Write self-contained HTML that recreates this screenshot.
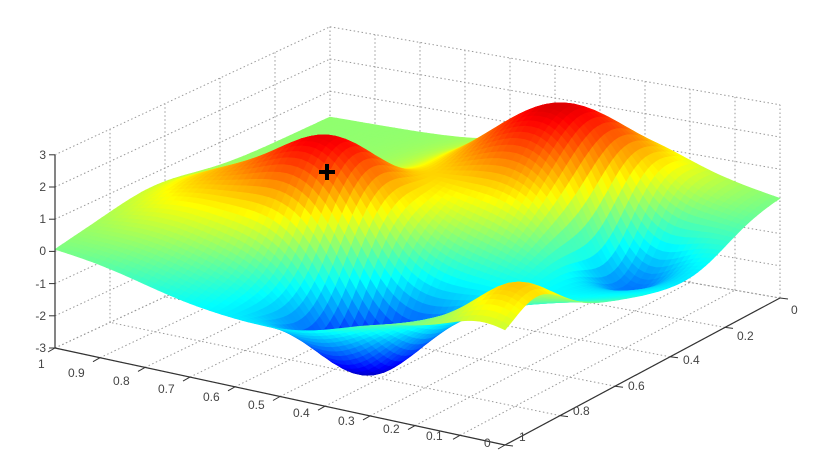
<!DOCTYPE html>
<html><head><meta charset="utf-8"><style>
html,body{margin:0;padding:0;background:#fff;width:820px;height:461px;overflow:hidden}
svg{display:block}
text{font-family:"Liberation Sans",sans-serif;font-size:12px;fill:#444}
</style></head><body>
<svg id="s" width="820" height="461" viewBox="0 0 820 461">
<g id="grid" stroke="#999" stroke-width="1" stroke-dasharray="1.5,2.5" fill="none"></g>
<g id="surf"></g>
<g id="axes" stroke="#333" stroke-width="1.2" fill="none">
<line x1="55" y1="155" x2="55" y2="348"/>
<line x1="55" y1="348" x2="505" y2="445"/>
<line x1="505" y1="445" x2="780" y2="298"/>
</g>
<g id="ticks" stroke="#333" stroke-width="1"></g>
<g>
<text x="46" y="159" text-anchor="end">3</text>
<text x="46" y="191" text-anchor="end">2</text>
<text x="46" y="223" text-anchor="end">1</text>
<text x="46" y="255" text-anchor="end">0</text>
<text x="46" y="288" text-anchor="end">-1</text>
<text x="46" y="320" text-anchor="end">-2</text>
<text x="46" y="352" text-anchor="end">-3</text>
<text x="38" y="368">1</text>
<text x="68" y="377">0.9</text>
<text x="113" y="385">0.8</text>
<text x="158" y="393">0.7</text>
<text x="203" y="401">0.6</text>
<text x="248" y="409">0.5</text>
<text x="293" y="417">0.4</text>
<text x="338" y="425">0.3</text>
<text x="383" y="433">0.2</text>
<text x="426" y="440">0.1</text>
<text x="484" y="447">0</text>
<text x="791" y="314">0</text>
<text x="737" y="340">0.2</text>
<text x="683" y="364">0.4</text>
<text x="628" y="390">0.6</text>
<text x="573" y="415">0.8</text>
<text x="519" y="441">1</text>
</g>
<g stroke="#000" stroke-width="4"><line x1="319" y1="172" x2="335" y2="172"/><line x1="327" y1="164" x2="327" y2="180"/></g>
</svg>
<script>
var A=[505,445],B=[55,348],C=[780,298],D=[330,220],ZS=32.2;
function fl(u,v){var x=(1-u)*(1-v)*A[0]+u*(1-v)*B[0]+(1-u)*v*C[0]+u*v*D[0];
var y=(1-u)*(1-v)*A[1]+u*(1-v)*B[1]+(1-u)*v*C[1]+u*v*D[1];return [x,y];}
function P(u,v,z){var p=fl(u,v);return [p[0],p[1]-(z+3)*ZS];}
var NS="http://www.w3.org/2000/svg";
function ln(g,a,b){var l=document.createElementNS(NS,"line");l.setAttribute("x1",a[0]);l.setAttribute("y1",a[1]);l.setAttribute("x2",b[0]);l.setAttribute("y2",b[1]);g.appendChild(l);}
var grid=document.getElementById("grid");
for(var i=0;i<=10;i++){var u=i/10;ln(grid,P(u,0,-3),P(u,1,-3));}
for(var j=0;j<=5;j++){var v=j/5;ln(grid,P(0,v,-3),P(1,v,-3));}
for(var z=-3;z<=3;z++){ln(grid,P(1,0,z),P(1,1,z));ln(grid,P(1,1,z),P(0,1,z));}
for(var j=0;j<=5;j++){var v=j/5;ln(grid,P(1,v,-3),P(1,v,3));}
for(var i=0;i<=10;i++){var u=i/10;ln(grid,P(u,1,-3),P(u,1,3));}
var tk=document.getElementById("ticks");
for(var z=-3;z<=3;z++){ln(tk,P(1,0,z),[P(1,0,z)[0]-6,P(1,0,z)[1]]);}
for(var i=0;i<=10;i++){var p=P(i/10,0,-3);ln(tk,p,[p[0]-7,p[1]+4]);}
for(var j=0;j<=5;j++){var p=P(0,j/5,-3);ln(tk,p,[p[0]+8,p[1]+1]);}
function G(u,v,cu,cv,su,sv){var a=(u-cu)/su,b=(v-cv)/sv;return Math.exp(-(a*a+b*b)/2);}
function f(u,v){var s=u+v-0.62;
return 0.2-1.0*Math.exp(-s*s/(2*0.2*0.2))
 +2.6*G(u,v,0.65,0.42,0.11,0.12)
 +2.8*G(u,v,0.36,0.80,0.15,0.15)
 -2.3*G(u,v,0.44,0.22,0.10,0.11)
 -2.3*G(u,v,0.17,0.72,0.08,0.10)
 +1.2*G(u,v,0.05,0.12,0.07,0.09)
 +0.9*G(u,v,0.87,0.35,0.1,0.15);}
function jet(t){t=Math.max(0,Math.min(1,t));
function c(x){return Math.round(255*Math.max(0,Math.min(1,x)));}
var r=c(1.5-Math.abs(4*t-3)),g=c(1.5-Math.abs(4*t-2)),b=c(1.5-Math.abs(4*t-1));
return "rgb("+r+","+g+","+b+")";}
var N=70,Z=[],mn=1e9,mx=-1e9;
for(var i=0;i<=N;i++){Z[i]=[];for(var j=0;j<=N;j++){var z=f(i/N,j/N);Z[i][j]=z;mn=Math.min(mn,z);mx=Math.max(mx,z);}}
var q=[];
for(var i=0;i<N;i++)for(var j=0;j<N;j++)q.push([i,j,i+j]);
q.sort(function(a,b){return b[2]-a[2];});
var s="";
for(var k=0;k<q.length;k++){var i=q[k][0],j=q[k][1];
var pts=[[i,j],[i+1,j],[i+1,j+1],[i,j+1]],za=0,d="";
for(var m=0;m<4;m++){var a=pts[m],z=Z[a[0]][a[1]];za+=z;var p=P(a[0]/N,a[1]/N,z);d+=(m?" ":"")+p[0].toFixed(1)+","+p[1].toFixed(1);}
var t=(za/4-mn)/(mx-mn);
var col=jet(0.05+0.86*t);
s+='<polygon points="'+d+'" fill="'+col+'" stroke="'+col+'" stroke-width="0.6"/>';}
document.getElementById("surf").innerHTML=s;
</script>
</body></html>
